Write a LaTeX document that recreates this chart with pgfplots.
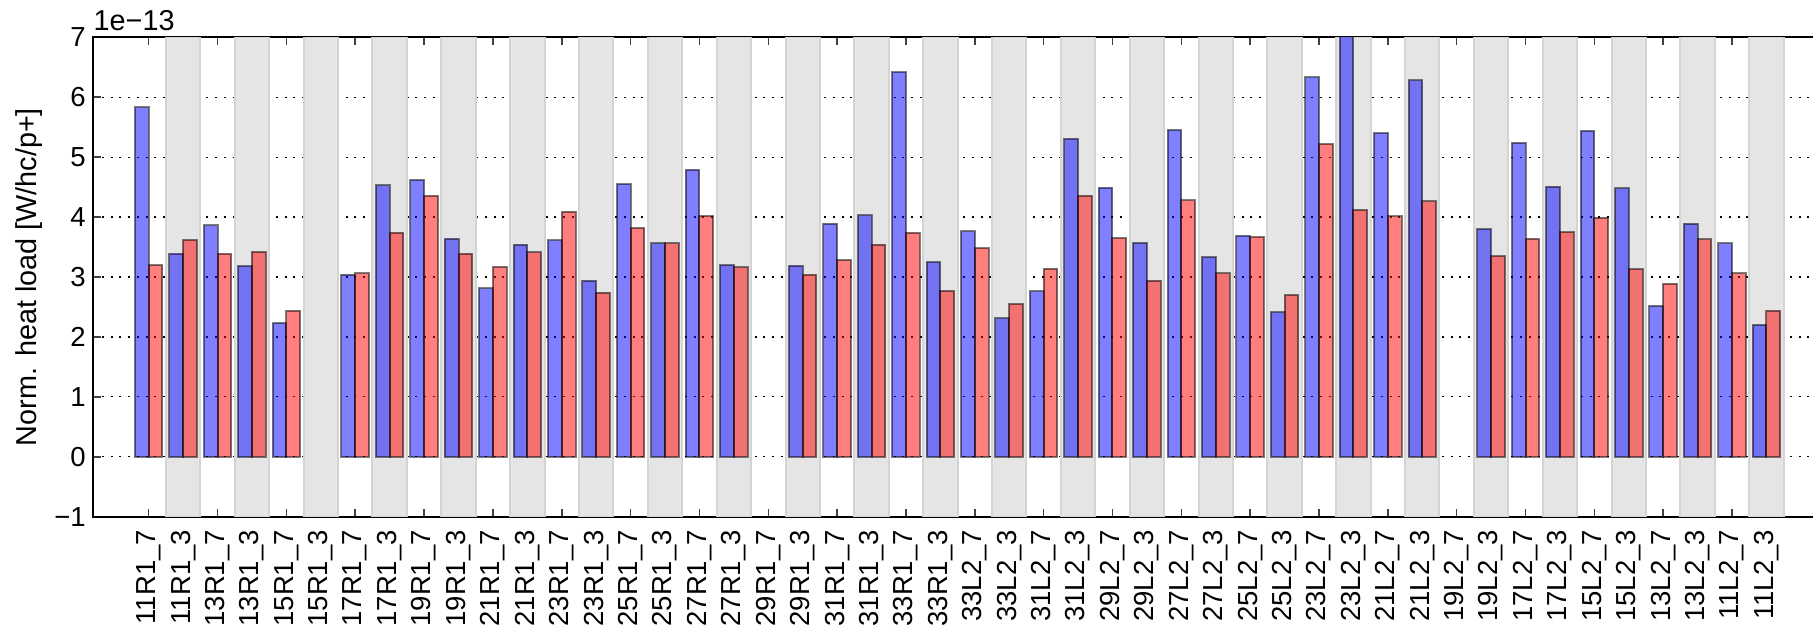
\documentclass[border=0pt]{standalone}
\usepackage{fontspec}
\setmainfont{Liberation Sans}
\usepackage{pgfplots}
\usepackage{pgfplotstable}
\pgfplotsset{compat=1.18}

% x = slot index, b = blue series, r = red series (units of 1e-13)
\pgfplotstableread{
x  b     r
0  5.83  3.20
1  3.39  3.62
2  3.86  3.39
3  3.18  3.42
4  2.23  2.44
6  3.04  3.06
7  4.53  3.74
8  4.62  4.36
9  3.64  3.39
10 2.81  3.17
11 3.54  3.41
12 3.61  4.09
13 2.94  2.74
14 4.55  3.82
15 3.56  3.56
16 4.79  4.02
17 3.20  3.16
19 3.19  3.04
20 3.89  3.28
21 4.03  3.54
22 6.42  3.74
23 3.25  2.77
24 3.76  3.48
25 2.31  2.55
26 2.76  3.14
27 5.31  4.36
28 4.49  3.65
29 3.57  2.94
30 5.45  4.28
31 3.33  3.06
32 3.69  3.67
33 2.41  2.70
34 6.33  5.22
35 7.40  4.12
36 5.40  4.01
37 6.28  4.26
39 3.80  3.35
40 5.24  3.64
41 4.51  3.75
42 5.44  3.99
43 4.48  3.13
44 2.52  2.89
45 3.89  3.63
46 3.56  3.06
47 2.20  2.44
}\heat

\tikzset{bandfill/.style={on layer=axis background, fill=black!10, draw=black!17, line width=1pt}}

\begin{document}
\begin{tikzpicture}[font=\fontsize{13.75}{16}\selectfont]
\begin{axis}[
    set layers,
    at={(0,0)}, anchor=south west,
    scale only axis, width=862.4pt, height=239.7pt,
    xmin=-1.61, xmax=48.5, ymin=-1, ymax=7,
    xtick={0,...,47},
    xticklabels={11R1\_7,11R1\_3,13R1\_7,13R1\_3,15R1\_7,15R1\_3,17R1\_7,17R1\_3,19R1\_7,19R1\_3,21R1\_7,21R1\_3,23R1\_7,23R1\_3,25R1\_7,25R1\_3,27R1\_7,27R1\_3,29R1\_7,29R1\_3,31R1\_7,31R1\_3,33R1\_7,33R1\_3,33L2\_7,33L2\_3,31L2\_7,31L2\_3,29L2\_7,29L2\_3,27L2\_7,27L2\_3,25L2\_7,25L2\_3,23L2\_7,23L2\_3,21L2\_7,21L2\_3,19L2\_7,19L2\_3,17L2\_7,17L2\_3,15L2\_7,15L2\_3,13L2\_7,13L2\_3,11L2\_7,11L2\_3},
    ytick={-1,0,1,2,3,4,5,6,7},
    yticklabels={−1,0,1,2,3,4,5,6,7},
    ytick pos=left,
    tick align=inside,
    major tick length=4pt,
    tick style={line width=0.75pt, black!75},
    axis line style={line width=1pt},
    xticklabel style={rotate=90, anchor=east, inner sep=0pt},
    xticklabel shift=6.5pt,
    yticklabel style={anchor=east, inner sep=0pt},
    yticklabel shift=3.6pt,
    ymajorgrids=true,
    major grid style={black, line width=0.6pt, dash pattern=on 1pt off 3.35pt},
    ylabel={Norm. heat load [W/hc/p+]},
    ylabel style={at={(rel axis cs:-0.0332,0.5)}, anchor=base, inner sep=0pt,
        font=\fontsize{14.4}{17}\selectfont},
]
\pgfplotsinvokeforeach{1,3,...,47}{
    \pgfmathsetmacro\xa{#1-0.5}
    \pgfmathsetmacro\xb{#1+0.5}
    \edef\band{\noexpand\path[bandfill] (axis cs:\xa,-1) rectangle (axis cs:\xb,7);}
    \band
}
\addplot[ybar, bar width=0.4, bar shift=-0.2, fill=blue, fill opacity=0.5,
    draw=black, draw opacity=0.5, line width=1pt] table[x=x, y=b] {\heat};
\addplot[ybar, bar width=0.4, bar shift=0.2, fill=red, fill opacity=0.5,
    draw=black, draw opacity=0.5, line width=1pt] table[x=x, y=r] {\heat};
\end{axis}
\node[anchor=base west, inner sep=0pt, font=\fontsize{14.4}{17}\selectfont]
    at ([yshift=3.65pt]current axis.north west) {1e−13};
\pgfresetboundingbox
\path (-46.65pt,-55.15pt) rectangle (859.85pt,258.35pt);
\end{tikzpicture}
\end{document}
